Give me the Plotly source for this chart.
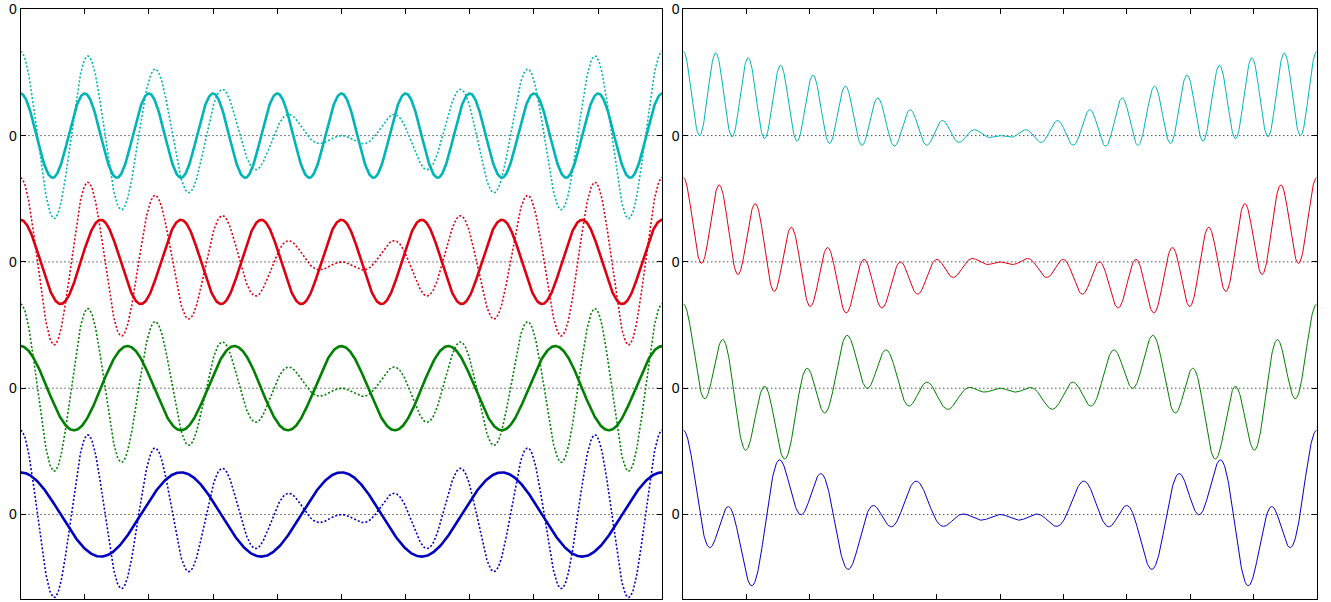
import numpy as np
import plotly.graph_objects as go

# ---- values ----
basis_freqs = [4, 6, 8, 10]          # cycles over the window (blue, green, red, cyan)
signal_freqs = [9, 10]               # the dotted test signal = sum of these cosines
row_offsets = [0, 3, 6, 9]           # vertical offset of each row
row_colors = ["#0000C0", "#008000", "#DD0011", "#00B5B5"]
ytick_vals = [0, 3, 6, 9, 12]
ytick_text = ["0", "0", "0", "0", "0"]
xtick_vals = [0.0, 0.1, 0.2, 0.3, 0.4, 0.5, 0.6, 0.7, 0.8, 0.9, 1.0]
t_range = [0.0, 1.0]
y_range = [-2.0, 12.0]
n_samples = 1201

t = np.linspace(t_range[0], t_range[1], n_samples)
signal = sum(np.cos(2 * np.pi * f * t) for f in signal_freqs)

fig = go.Figure()

for k, off, col in zip(basis_freqs, row_offsets, row_colors):
    basis = np.cos(2 * np.pi * k * t)
    # zero reference lines (both panels)
    for xa, ya in (("x", "y"), ("x2", "y2")):
        fig.add_trace(go.Scatter(x=t_range, y=[off, off], mode="lines",
                                 line=dict(color="black", width=1, dash="1px,3px"),
                                 xaxis=xa, yaxis=ya, hoverinfo="skip", showlegend=False))
    # left panel: test signal (dotted) and basis cosine (solid)
    fig.add_trace(go.Scatter(x=t, y=signal + off, mode="lines",
                             line=dict(color=col, width=1.6, dash="2px,2px"),
                             xaxis="x", yaxis="y", showlegend=False))
    fig.add_trace(go.Scatter(x=t, y=basis + off, mode="lines",
                             line=dict(color=col, width=2.6),
                             xaxis="x", yaxis="y", showlegend=False))
    # right panel: product
    fig.add_trace(go.Scatter(x=t, y=signal * basis + off, mode="lines",
                             line=dict(color=col, width=1.0),
                             xaxis="x2", yaxis="y2", showlegend=False))

W, H = 1331, 602
xdom1 = [20.5 / W, 662.3 / W]
xdom2 = [683.3 / W, 1316.7 / W]
ydom = [(H - 598.7) / H, (H - 9.3) / H]

xcommon = dict(range=t_range, tickvals=xtick_vals, showticklabels=False,
               ticks="inside", ticklen=5, tickcolor="black", tickwidth=1,
               showline=True, linecolor="black", linewidth=1, mirror="allticks",
               showgrid=False, zeroline=False, automargin=False)
ycommon = dict(range=y_range, tickvals=ytick_vals, ticktext=ytick_text,
               ticks="inside", ticklen=5, tickcolor="black", tickwidth=1,
               showline=True, linecolor="black", linewidth=1, mirror="allticks",
               showgrid=False, zeroline=False, automargin=False,
               tickfont=dict(family="Liberation Sans, Arial, sans-serif", size=14, color="black"))

fig.update_layout(
    width=W, height=H,
    margin=dict(l=0, r=0, t=0, b=0, autoexpand=False),
    paper_bgcolor="white", plot_bgcolor="white",
    hovermode=False,
    xaxis=dict(domain=xdom1, anchor="y", **xcommon),
    yaxis=dict(domain=ydom, anchor="x", **ycommon),
    xaxis2=dict(domain=xdom2, anchor="y2", **xcommon),
    yaxis2=dict(domain=ydom, anchor="x2", **ycommon),
)

# remove the page's default body margin so the figure sits at the window origin
fig.write_html("out.html",
               config={"displayModeBar": False, "staticPlot": True},
               post_script="document.body.style.margin='0px';document.body.style.overflow='hidden';")
